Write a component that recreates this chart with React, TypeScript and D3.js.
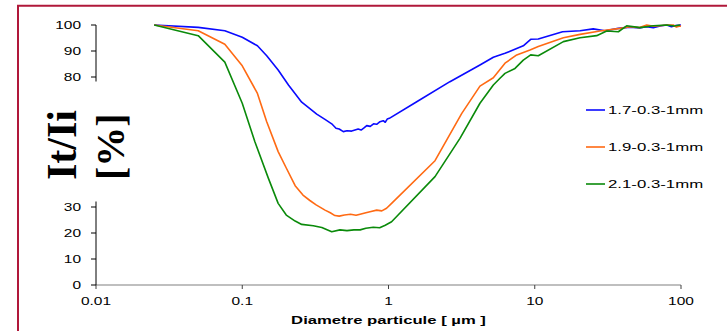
import React from "react";
import * as d3 from "d3";

const seriesNames = ["1.7-0.3-1mm", "1.9-0.3-1mm", "2.1-0.3-1mm"];
const seriesColors = ["#0a0aff", "#ff6a13", "#0a8a0a"];

const blueX = [0.025,0.05,0.076,0.10,0.127,0.147,0.176,0.207,0.255,0.29,0.323,0.37,0.409,0.4375,0.46,0.491,0.52,0.56,0.59,0.62,0.65,0.68,0.71,0.75,0.79,0.83,0.875,0.92,0.95,0.98,1.013,1.56,2.63,4.22,5.21,6.26,8.35,9.38,10.57,15.5,20.4,25.1,30.2,37.3,44.8,52,58,64.7,72,79.9,86,92,100];
const blueY = [100,99.1,97.8,95.3,92.0,88.2,82.7,76.9,70.3,67.8,65.7,63.6,62.0,60.3,60.0,59.0,59.3,59.2,59.6,60.0,59.6,60.4,61.3,61.0,62.0,61.8,62.8,63.2,62.6,63.8,64.1,70.5,78.2,84.6,87.6,89.1,92.0,94.5,94.6,97.4,97.8,98.5,97.8,98.7,99.2,98.9,99.3,99.0,99.6,100,99.3,99.8,100];

const orangeX = [0.025,0.05,0.076,0.10,0.127,0.147,0.176,0.20,0.23,0.26,0.29,0.32,0.368,0.40,0.43,0.46,0.50,0.55,0.60,0.64,0.70,0.76,0.83,0.90,0.97,1.05,2.08,3.17,4.22,5.21,6.26,7.53,9.28,10.57,15.7,20.4,27.9,38.3,44.8,52,58.3,65,71.8,80,88.6,93,98.4,100];
const orangeY = [100,97.8,92.6,84.3,73.7,62.8,51.3,45.0,38.2,34.6,32.5,30.8,28.8,27.8,26.7,26.5,26.9,27.2,26.8,27.2,27.8,28.3,28.8,28.5,29.5,31.4,47.8,66.0,76.5,79.7,85.3,88.5,90.4,91.7,95.1,96.4,97.7,98.7,99.3,99.0,100,99.5,99.7,100,100,99.2,99.6,99.5];

const greenX = [0.025,0.05,0.076,0.10,0.122,0.151,0.176,0.20,0.23,0.255,0.306,0.35,0.409,0.466,0.52,0.58,0.64,0.70,0.787,0.87,0.95,1.05,2.08,3.08,4.22,5.21,5.785,6.26,7.33,8.35,9.38,10.57,15.7,20.4,26.5,31.05,37.3,42.5,52.4,64.7,79.9,90,98.4];
const greenY = [100,95.9,85.7,69.9,55.1,41.0,31.4,26.9,24.6,23.3,22.8,22.1,20.5,21.2,20.9,21.2,21.2,21.8,22.2,22.0,23.0,24.3,41.7,56.4,69.9,76.9,79.5,81.4,83.3,86.5,88.5,88.2,93.6,95.1,95.9,97.7,97.4,99.7,99.0,99.7,100,99.6,100];

const xTicks = [0.01, 0.1, 1, 10, 100];
const xTickLabels = ["0.01", "0.1", "1", "10", "100"];
const yTicks = [0, 10, 20, 30, 80, 90, 100];
const xTitle = "Diametre particule [ µm ]";
const yTitleLines = ["It/Ii", "[%]"];

const W = 727, H = 331;
const m = { left: 96, right: 46, top: 25, bottom: 46 };

export default function App() {
  const x = d3.scaleLog().domain([0.01, 100]).range([m.left, W - m.right]);
  const y = d3.scaleLinear().domain([0, 100]).range([H - m.bottom, m.top]);
  const line = d3.line<[number, number]>().x(d => x(d[0])).y(d => y(d[1]));
  const series = [
    d3.zip(blueX, blueY) as [number, number][],
    d3.zip(orangeX, orangeY) as [number, number][],
    d3.zip(greenX, greenY) as [number, number][],
  ];
  const font = "'Liberation Sans', Arial, sans-serif";
  const sx = 1.55;
  return (
    <svg width={W} height={H} style={{ position: "absolute", left: 0, top: 0, background: "#fff" }}>
      {/* frame */}
      <path d={`M18,${H} L18,5.7 L${W},5.7`} fill="none" stroke="#b0183a" strokeWidth={2} />
      {/* x axis */}
      <line x1={x(0.01)} x2={x(100)} y1={y(0)} y2={y(0)} stroke="#808080" strokeWidth={1.2} />
      {xTicks.map((t, i) => (
        <g key={"xt" + i}>
          <line x1={x(t)} x2={x(t)} y1={y(0)} y2={y(0) + 4} stroke="#404040" strokeWidth={1} />
          <text transform={`translate(${x(t)},${y(0) + 20}) scale(${sx},1)`} textAnchor="middle"
            fontFamily={font} fontSize={10} fill="#000">{xTickLabels[i]}</text>
        </g>
      ))}
      {/* y axis */}
      <line x1={x(0.01)} x2={x(0.01)} y1={y(0)} y2={y(100)} stroke="#000" strokeWidth={1} />
      {yTicks.map((t, i) => (
        <g key={"yt" + i}>
          <line x1={x(0.01) - 5} x2={x(0.01)} y1={y(t)} y2={y(t)} stroke="#000" strokeWidth={1} />
          <text transform={`translate(81,${y(t) + 3.6}) scale(${sx},1)`} textAnchor="end"
            fontFamily={font} fontSize={10} fill="#000">{t}</text>
        </g>
      ))}
      {/* y title with white box */}
      <rect x={30} y={81.5} width={110} height={120} fill="#fff" />
      <text transform="translate(76,180) rotate(-90)" fontFamily="'Liberation Serif', 'Times New Roman', serif"
        fontWeight="bold" fontSize={42} fill="#000">{yTitleLines[0]}</text>
      <text transform="translate(124,180) rotate(-90)" fontFamily="'Liberation Serif', 'Times New Roman', serif"
        fontWeight="bold" fontSize={40} fill="#000">{yTitleLines[1]}</text>
      {/* x title */}
      <text transform={`translate(${x(1)},324) scale(1.45,1)`} textAnchor="middle" fontFamily={font}
        fontWeight="bold" fontSize={11.5} fill="#000">{xTitle}</text>
      {/* lines */}
      {series.map((s, i) => (
        <path key={"s" + i} d={line(s) || ""} fill="none" stroke={seriesColors[i]} strokeWidth={1.6}
          strokeLinejoin="round" />
      ))}
      {/* legend */}
      {seriesNames.map((n, i) => (
        <g key={"lg" + i}>
          <line x1={586} x2={605} y1={110 + i * 37} y2={110 + i * 37} stroke={seriesColors[i]} strokeWidth={1.6} />
          <text transform={`translate(608,${110 + i * 37 + 3.8}) scale(1.6,1)`} fontFamily={font}
            fontSize={10.5} fill="#000">{n}</text>
        </g>
      ))}
    </svg>
  );
}
